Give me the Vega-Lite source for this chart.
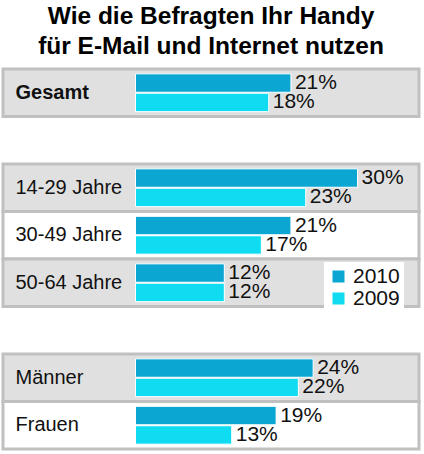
{
  "$schema": "https://vega.github.io/schema/vega-lite/v6.json",
  "width": 416,
  "height": 380,
  "autosize": "none",
  "padding": {"left": 3, "top": 69, "right": 5, "bottom": 5},
  "background": "white",
  "title": {
    "text": ["Wie die Befragten Ihr Handy", "für E-Mail und Internet nutzen"],
    "font": "Liberation Sans",
    "fontWeight": "bold",
    "fontSize": 24.5,
    "lineHeight": 30,
    "color": "black",
    "anchor": "middle",
    "offset": 8
  },
  "config": {"view": {"stroke": null}, "font": "Liberation Sans"},
  "datasets": {
    "rows": [
      {"row": "Gesamt"},
      {"row": "14-29 Jahre"},
      {"row": "30-49 Jahre"},
      {"row": "50-64 Jahre"},
      {"row": "Männer"},
      {"row": "Frauen"}
    ],
    "bars": [
      {"row": "Gesamt", "year": "2010", "value": 21},
      {"row": "Gesamt", "year": "2009", "value": 18},
      {"row": "14-29 Jahre", "year": "2010", "value": 30},
      {"row": "14-29 Jahre", "year": "2009", "value": 23},
      {"row": "30-49 Jahre", "year": "2010", "value": 21},
      {"row": "30-49 Jahre", "year": "2009", "value": 17},
      {"row": "50-64 Jahre", "year": "2010", "value": 12},
      {"row": "50-64 Jahre", "year": "2009", "value": 12},
      {"row": "Männer", "year": "2010", "value": 24},
      {"row": "Männer", "year": "2009", "value": 22},
      {"row": "Frauen", "year": "2010", "value": 19},
      {"row": "Frauen", "year": "2009", "value": 13}
    ]
  },
  "layer": [
    {
      "data": {"name": "rows"},
      "mark": {"type": "rect", "stroke": "#c0c0c0", "strokeWidth": 3},
      "encoding": {
        "y": {
          "field": "row",
          "type": "nominal",
          "scale": {
            "domain": ["Gesamt", " ", "14-29 Jahre", "30-49 Jahre", "50-64 Jahre", "  ", "Männer", "Frauen"],
            "paddingInner": 0,
            "paddingOuter": 0
          },
          "axis": {
            "title": null,
            "domain": false,
            "ticks": false,
            "tickSize": 0,
            "labelPadding": -12,
            "labelAlign": "left",
            "labelBaseline": "middle",
            "labelFont": "Liberation Sans",
            "labelFontSize": 20,
            "labelColor": "#111",
            "labelFontWeight": {"condition": {"test": "datum.value === 'Gesamt'", "value": "bold"}, "value": "normal"},
            "zindex": 2
          }
        },
        "fill": {
          "condition": {"test": "datum.row === '30-49 Jahre' || datum.row === 'Frauen'", "value": "white"},
          "value": "#e0e0e0"
        }
      }
    },
    {
      "data": {"name": "bars"},
      "mark": {"type": "bar", "stroke": "white", "strokeWidth": 1},
      "encoding": {
        "y": {"field": "row", "type": "nominal"},
        "yOffset": {
          "field": "year",
          "type": "nominal",
          "scale": {"domain": ["2010", "2009"], "paddingInner": 0.05, "paddingOuter": 0.25}
        },
        "x": {
          "field": "value",
          "type": "quantitative",
          "scale": {"domain": [-17.9, 38.3], "nice": false, "zero": false},
          "axis": null
        },
        "color": {
          "field": "year",
          "type": "nominal",
          "scale": {"domain": ["2010", "2009"], "range": ["#0ba6d1", "#0fdcf1"]},
          "legend": {
            "title": null,
            "orient": "none",
            "legendX": 321,
            "legendY": 193,
            "fillColor": "white",
            "padding": 4,
            "symbolType": "square",
            "symbolSize": 144,
            "symbolStrokeWidth": 0,
            "symbolOpacity": 1,
            "labelFont": "Liberation Sans",
            "labelFontSize": 21,
            "labelColor": "#111",
            "labelOffset": 4,
            "rowPadding": 0
          }
        }
      }
    },
    {
      "data": {"name": "bars"},
      "transform": [{"calculate": "datum.value + '%'", "as": "label"}],
      "mark": {"type": "text", "align": "left", "baseline": "middle", "dx": 4, "fontSize": 21, "font": "Liberation Sans", "color": "#111"},
      "encoding": {
        "y": {"field": "row", "type": "nominal"},
        "yOffset": {"field": "year", "type": "nominal"},
        "x": {"field": "value", "type": "quantitative"},
        "text": {"field": "label"}
      }
    }
  ]
}
